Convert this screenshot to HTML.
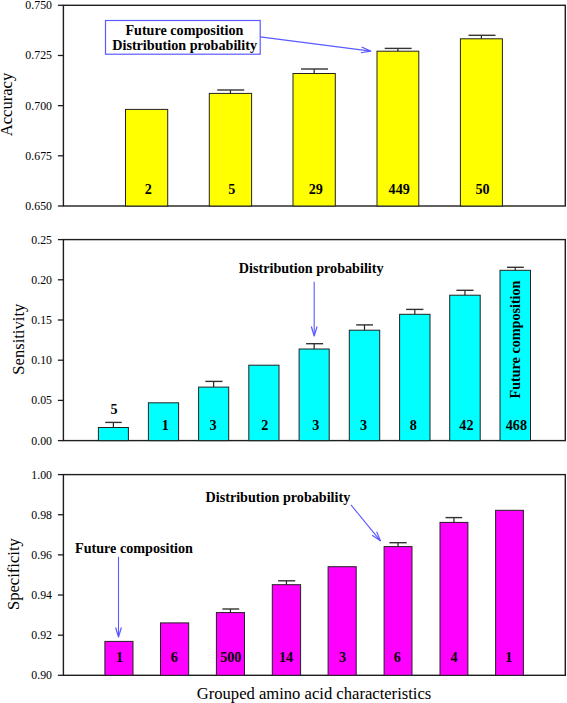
<!DOCTYPE html>
<html><head><meta charset="utf-8"><style>
html,body{margin:0;padding:0;background:#fff;}
svg{display:block;}
text{font-family:"Liberation Serif",serif;fill:#000;}
.tk{font-size:12.6px;}
.bl{font-size:14.15px;font-weight:bold;}
.ax{font-size:16.6px;}
</style></head><body>
<svg width="567" height="703" viewBox="0 0 567 703">
<rect width="567" height="703" fill="#fff"/>
<rect x="63.4" y="5.3" width="501.90" height="200.70" fill="none" stroke="#1e1e1e" stroke-width="1.4"/>
<line x1="57.9" y1="206.00" x2="63.4" y2="206.00" stroke="#1e1e1e" stroke-width="1.3"/>
<text transform="translate(52,210.00) scale(0.94,1)" text-anchor="end" class="tk">0.650</text>
<line x1="57.9" y1="155.82" x2="63.4" y2="155.82" stroke="#1e1e1e" stroke-width="1.3"/>
<text transform="translate(52,159.82) scale(0.94,1)" text-anchor="end" class="tk">0.675</text>
<line x1="57.9" y1="105.65" x2="63.4" y2="105.65" stroke="#1e1e1e" stroke-width="1.3"/>
<text transform="translate(52,109.65) scale(0.94,1)" text-anchor="end" class="tk">0.700</text>
<line x1="57.9" y1="55.48" x2="63.4" y2="55.48" stroke="#1e1e1e" stroke-width="1.3"/>
<text transform="translate(52,59.48) scale(0.94,1)" text-anchor="end" class="tk">0.725</text>
<line x1="57.9" y1="5.30" x2="63.4" y2="5.30" stroke="#1e1e1e" stroke-width="1.3"/>
<text transform="translate(52,9.30) scale(0.94,1)" text-anchor="end" class="tk">0.750</text>
<rect x="125.50" y="109.40" width="42.20" height="96.60" fill="#ffff00" stroke="#222" stroke-width="1.0"/>
<text x="148.20" y="194.4" text-anchor="middle" class="bl">2</text>
<rect x="209.30" y="93.40" width="42.30" height="112.60" fill="#ffff00" stroke="#222" stroke-width="1.0"/>
<line x1="230.45" y1="90.00" x2="230.45" y2="93.40" stroke="#222" stroke-width="1.2"/>
<line x1="217.20" y1="90.00" x2="244.20" y2="90.00" stroke="#333" stroke-width="1.4"/>
<text x="231.85" y="194.4" text-anchor="middle" class="bl">5</text>
<rect x="293.00" y="73.50" width="42.30" height="132.50" fill="#ffff00" stroke="#222" stroke-width="1.0"/>
<line x1="314.15" y1="69.00" x2="314.15" y2="73.50" stroke="#222" stroke-width="1.2"/>
<line x1="301.00" y1="69.00" x2="328.00" y2="69.00" stroke="#333" stroke-width="1.4"/>
<text x="315.75" y="194.4" text-anchor="middle" class="bl">29</text>
<rect x="377.00" y="51.20" width="41.80" height="154.80" fill="#ffff00" stroke="#222" stroke-width="1.0"/>
<line x1="397.90" y1="48.40" x2="397.90" y2="51.20" stroke="#222" stroke-width="1.2"/>
<line x1="384.70" y1="48.40" x2="411.60" y2="48.40" stroke="#333" stroke-width="1.4"/>
<text x="399.20" y="194.4" text-anchor="middle" class="bl">449</text>
<rect x="460.40" y="38.80" width="42.00" height="167.20" fill="#ffff00" stroke="#222" stroke-width="1.0"/>
<line x1="481.40" y1="35.30" x2="481.40" y2="38.80" stroke="#222" stroke-width="1.2"/>
<line x1="468.50" y1="35.30" x2="495.50" y2="35.30" stroke="#333" stroke-width="1.4"/>
<text x="482.50" y="194.4" text-anchor="middle" class="bl">50</text>
<rect x="105.5" y="20.5" width="154.7" height="33.7" fill="#fff" stroke="#5a5aff" stroke-width="1.2"/>
<text x="184.4" y="34.6" text-anchor="middle" class="bl">Future composition</text>
<text x="184.6" y="49.9" text-anchor="middle" class="bl">Distribution probability</text>
<line x1="260.2" y1="36.9" x2="370.7" y2="51.1" stroke="#5a5aff" stroke-width="1.1"/>
<polyline points="360.91,52.77 370.70,51.10 361.65,47.01" fill="none" stroke="#5a5aff" stroke-width="1.2" stroke-linejoin="round"/>
<text transform="translate(12.4,104.5) rotate(-90)" text-anchor="middle" class="ax">Accuracy</text>
<rect x="63.4" y="239.6" width="501.90" height="201.00" fill="none" stroke="#1e1e1e" stroke-width="1.4"/>
<line x1="57.9" y1="440.60" x2="63.4" y2="440.60" stroke="#1e1e1e" stroke-width="1.3"/>
<text transform="translate(52,444.60) scale(0.94,1)" text-anchor="end" class="tk">0.00</text>
<line x1="57.9" y1="400.40" x2="63.4" y2="400.40" stroke="#1e1e1e" stroke-width="1.3"/>
<text transform="translate(52,404.40) scale(0.94,1)" text-anchor="end" class="tk">0.05</text>
<line x1="57.9" y1="360.20" x2="63.4" y2="360.20" stroke="#1e1e1e" stroke-width="1.3"/>
<text transform="translate(52,364.20) scale(0.94,1)" text-anchor="end" class="tk">0.10</text>
<line x1="57.9" y1="320.00" x2="63.4" y2="320.00" stroke="#1e1e1e" stroke-width="1.3"/>
<text transform="translate(52,324.00) scale(0.94,1)" text-anchor="end" class="tk">0.15</text>
<line x1="57.9" y1="279.80" x2="63.4" y2="279.80" stroke="#1e1e1e" stroke-width="1.3"/>
<text transform="translate(52,283.80) scale(0.94,1)" text-anchor="end" class="tk">0.20</text>
<line x1="57.9" y1="239.60" x2="63.4" y2="239.60" stroke="#1e1e1e" stroke-width="1.3"/>
<text transform="translate(52,243.60) scale(0.94,1)" text-anchor="end" class="tk">0.25</text>
<rect x="98.40" y="427.50" width="30.00" height="13.10" fill="#00ffff" stroke="#222" stroke-width="1.0"/>
<line x1="113.40" y1="422.40" x2="113.40" y2="427.50" stroke="#222" stroke-width="1.2"/>
<line x1="105.20" y1="422.40" x2="121.70" y2="422.40" stroke="#333" stroke-width="1.4"/>
<rect x="148.40" y="402.80" width="30.20" height="37.80" fill="#00ffff" stroke="#222" stroke-width="1.0"/>
<text x="165.30" y="430.4" text-anchor="middle" class="bl">1</text>
<rect x="198.60" y="387.10" width="30.10" height="53.50" fill="#00ffff" stroke="#222" stroke-width="1.0"/>
<line x1="213.65" y1="381.40" x2="213.65" y2="387.10" stroke="#222" stroke-width="1.2"/>
<line x1="205.30" y1="381.40" x2="222.50" y2="381.40" stroke="#333" stroke-width="1.4"/>
<text x="213.00" y="430.4" text-anchor="middle" class="bl">3</text>
<rect x="248.80" y="365.20" width="30.20" height="75.40" fill="#00ffff" stroke="#222" stroke-width="1.0"/>
<text x="264.70" y="430.4" text-anchor="middle" class="bl">2</text>
<rect x="299.10" y="349.00" width="30.10" height="91.60" fill="#00ffff" stroke="#222" stroke-width="1.0"/>
<line x1="314.15" y1="343.70" x2="314.15" y2="349.00" stroke="#222" stroke-width="1.2"/>
<line x1="306.10" y1="343.70" x2="323.10" y2="343.70" stroke="#333" stroke-width="1.4"/>
<text x="315.85" y="430.4" text-anchor="middle" class="bl">3</text>
<rect x="349.30" y="330.20" width="30.40" height="110.40" fill="#00ffff" stroke="#222" stroke-width="1.0"/>
<line x1="364.50" y1="324.90" x2="364.50" y2="330.20" stroke="#222" stroke-width="1.2"/>
<line x1="356.20" y1="324.90" x2="373.00" y2="324.90" stroke="#333" stroke-width="1.4"/>
<text x="363.50" y="430.4" text-anchor="middle" class="bl">3</text>
<rect x="399.60" y="314.30" width="30.40" height="126.30" fill="#00ffff" stroke="#222" stroke-width="1.0"/>
<line x1="414.80" y1="309.40" x2="414.80" y2="314.30" stroke="#222" stroke-width="1.2"/>
<line x1="406.10" y1="309.40" x2="423.40" y2="309.40" stroke="#333" stroke-width="1.4"/>
<text x="413.30" y="430.4" text-anchor="middle" class="bl">8</text>
<rect x="449.70" y="295.20" width="30.50" height="145.40" fill="#00ffff" stroke="#222" stroke-width="1.0"/>
<line x1="464.95" y1="290.30" x2="464.95" y2="295.20" stroke="#222" stroke-width="1.2"/>
<line x1="456.40" y1="290.30" x2="473.50" y2="290.30" stroke="#333" stroke-width="1.4"/>
<text x="466.40" y="430.4" text-anchor="middle" class="bl">42</text>
<rect x="500.00" y="270.30" width="30.50" height="170.30" fill="#00ffff" stroke="#222" stroke-width="1.0"/>
<line x1="515.25" y1="267.30" x2="515.25" y2="270.30" stroke="#222" stroke-width="1.2"/>
<line x1="507.00" y1="267.30" x2="523.80" y2="267.30" stroke="#333" stroke-width="1.4"/>
<text x="516.40" y="430.4" text-anchor="middle" class="bl">468</text>
<text x="114.15" y="414" text-anchor="middle" class="bl">5</text>
<text x="311.2" y="272.9" text-anchor="middle" class="bl">Distribution probability</text>
<line x1="314.2" y1="281.8" x2="314.2" y2="335.5" stroke="#5a5aff" stroke-width="1.1"/>
<polyline points="311.30,326.50 314.20,336.00 317.10,326.50" fill="none" stroke="#5a5aff" stroke-width="1.2" stroke-linejoin="round"/>
<text transform="translate(519.6,339.5) rotate(-90)" text-anchor="middle" class="bl">Future composition</text>
<text transform="translate(23.8,339.2) rotate(-90)" text-anchor="middle" class="ax">Sensitivity</text>
<rect x="63.4" y="474.6" width="501.90" height="200.70" fill="none" stroke="#1e1e1e" stroke-width="1.4"/>
<line x1="57.9" y1="675.30" x2="63.4" y2="675.30" stroke="#1e1e1e" stroke-width="1.3"/>
<text transform="translate(52,679.30) scale(0.94,1)" text-anchor="end" class="tk">0.90</text>
<line x1="57.9" y1="635.16" x2="63.4" y2="635.16" stroke="#1e1e1e" stroke-width="1.3"/>
<text transform="translate(52,639.16) scale(0.94,1)" text-anchor="end" class="tk">0.92</text>
<line x1="57.9" y1="595.02" x2="63.4" y2="595.02" stroke="#1e1e1e" stroke-width="1.3"/>
<text transform="translate(52,599.02) scale(0.94,1)" text-anchor="end" class="tk">0.94</text>
<line x1="57.9" y1="554.88" x2="63.4" y2="554.88" stroke="#1e1e1e" stroke-width="1.3"/>
<text transform="translate(52,558.88) scale(0.94,1)" text-anchor="end" class="tk">0.96</text>
<line x1="57.9" y1="514.74" x2="63.4" y2="514.74" stroke="#1e1e1e" stroke-width="1.3"/>
<text transform="translate(52,518.74) scale(0.94,1)" text-anchor="end" class="tk">0.98</text>
<line x1="57.9" y1="474.60" x2="63.4" y2="474.60" stroke="#1e1e1e" stroke-width="1.3"/>
<text transform="translate(52,478.60) scale(0.94,1)" text-anchor="end" class="tk">1.00</text>
<rect x="104.90" y="641.40" width="28.10" height="33.90" fill="#ff00ff" stroke="#222" stroke-width="1.0"/>
<text x="119.60" y="662.3" text-anchor="middle" class="bl">1</text>
<rect x="160.50" y="622.90" width="28.20" height="52.40" fill="#ff00ff" stroke="#222" stroke-width="1.0"/>
<text x="174.35" y="662.3" text-anchor="middle" class="bl">6</text>
<rect x="216.40" y="612.60" width="28.10" height="62.70" fill="#ff00ff" stroke="#222" stroke-width="1.0"/>
<line x1="230.45" y1="609.00" x2="230.45" y2="612.60" stroke="#222" stroke-width="1.2"/>
<line x1="222.40" y1="609.00" x2="239.20" y2="609.00" stroke="#333" stroke-width="1.4"/>
<text x="230.80" y="662.3" text-anchor="middle" class="bl">500</text>
<rect x="272.30" y="584.70" width="28.30" height="90.60" fill="#ff00ff" stroke="#222" stroke-width="1.0"/>
<line x1="286.45" y1="580.80" x2="286.45" y2="584.70" stroke="#222" stroke-width="1.2"/>
<line x1="278.10" y1="580.80" x2="295.20" y2="580.80" stroke="#333" stroke-width="1.4"/>
<text x="286.10" y="662.3" text-anchor="middle" class="bl">14</text>
<rect x="328.10" y="566.70" width="28.10" height="108.60" fill="#ff00ff" stroke="#222" stroke-width="1.0"/>
<text x="342.60" y="662.3" text-anchor="middle" class="bl">3</text>
<rect x="384.10" y="546.60" width="27.90" height="128.70" fill="#ff00ff" stroke="#222" stroke-width="1.0"/>
<line x1="398.05" y1="542.70" x2="398.05" y2="546.60" stroke="#222" stroke-width="1.2"/>
<line x1="389.40" y1="542.70" x2="406.70" y2="542.70" stroke="#333" stroke-width="1.4"/>
<text x="397.20" y="662.3" text-anchor="middle" class="bl">6</text>
<rect x="440.00" y="522.40" width="27.90" height="152.90" fill="#ff00ff" stroke="#222" stroke-width="1.0"/>
<line x1="453.95" y1="517.60" x2="453.95" y2="522.40" stroke="#222" stroke-width="1.2"/>
<line x1="445.50" y1="517.60" x2="462.20" y2="517.60" stroke="#333" stroke-width="1.4"/>
<text x="454.10" y="662.3" text-anchor="middle" class="bl">4</text>
<rect x="495.60" y="510.30" width="27.80" height="165.00" fill="#ff00ff" stroke="#222" stroke-width="1.0"/>
<text x="508.80" y="662.3" text-anchor="middle" class="bl">1</text>
<text x="134" y="553.4" text-anchor="middle" class="bl">Future composition</text>
<line x1="118.5" y1="556.8" x2="118.5" y2="636.5" stroke="#5a5aff" stroke-width="1.1"/>
<polyline points="115.60,627.50 118.50,637.00 121.40,627.50" fill="none" stroke="#5a5aff" stroke-width="1.2" stroke-linejoin="round"/>
<text x="277.9" y="501.9" text-anchor="middle" class="bl">Distribution probability</text>
<line x1="351" y1="504.9" x2="380.4" y2="540.8" stroke="#5a5aff" stroke-width="1.1"/>
<polyline points="372.14,535.29 380.40,540.80 376.62,531.61" fill="none" stroke="#5a5aff" stroke-width="1.2" stroke-linejoin="round"/>
<text transform="translate(18.9,574.1) rotate(-90)" text-anchor="middle" class="ax">Specificity</text>
<text x="314" y="698.5" text-anchor="middle" class="ax">Grouped amino acid characteristics</text>
</svg>
</body></html>
